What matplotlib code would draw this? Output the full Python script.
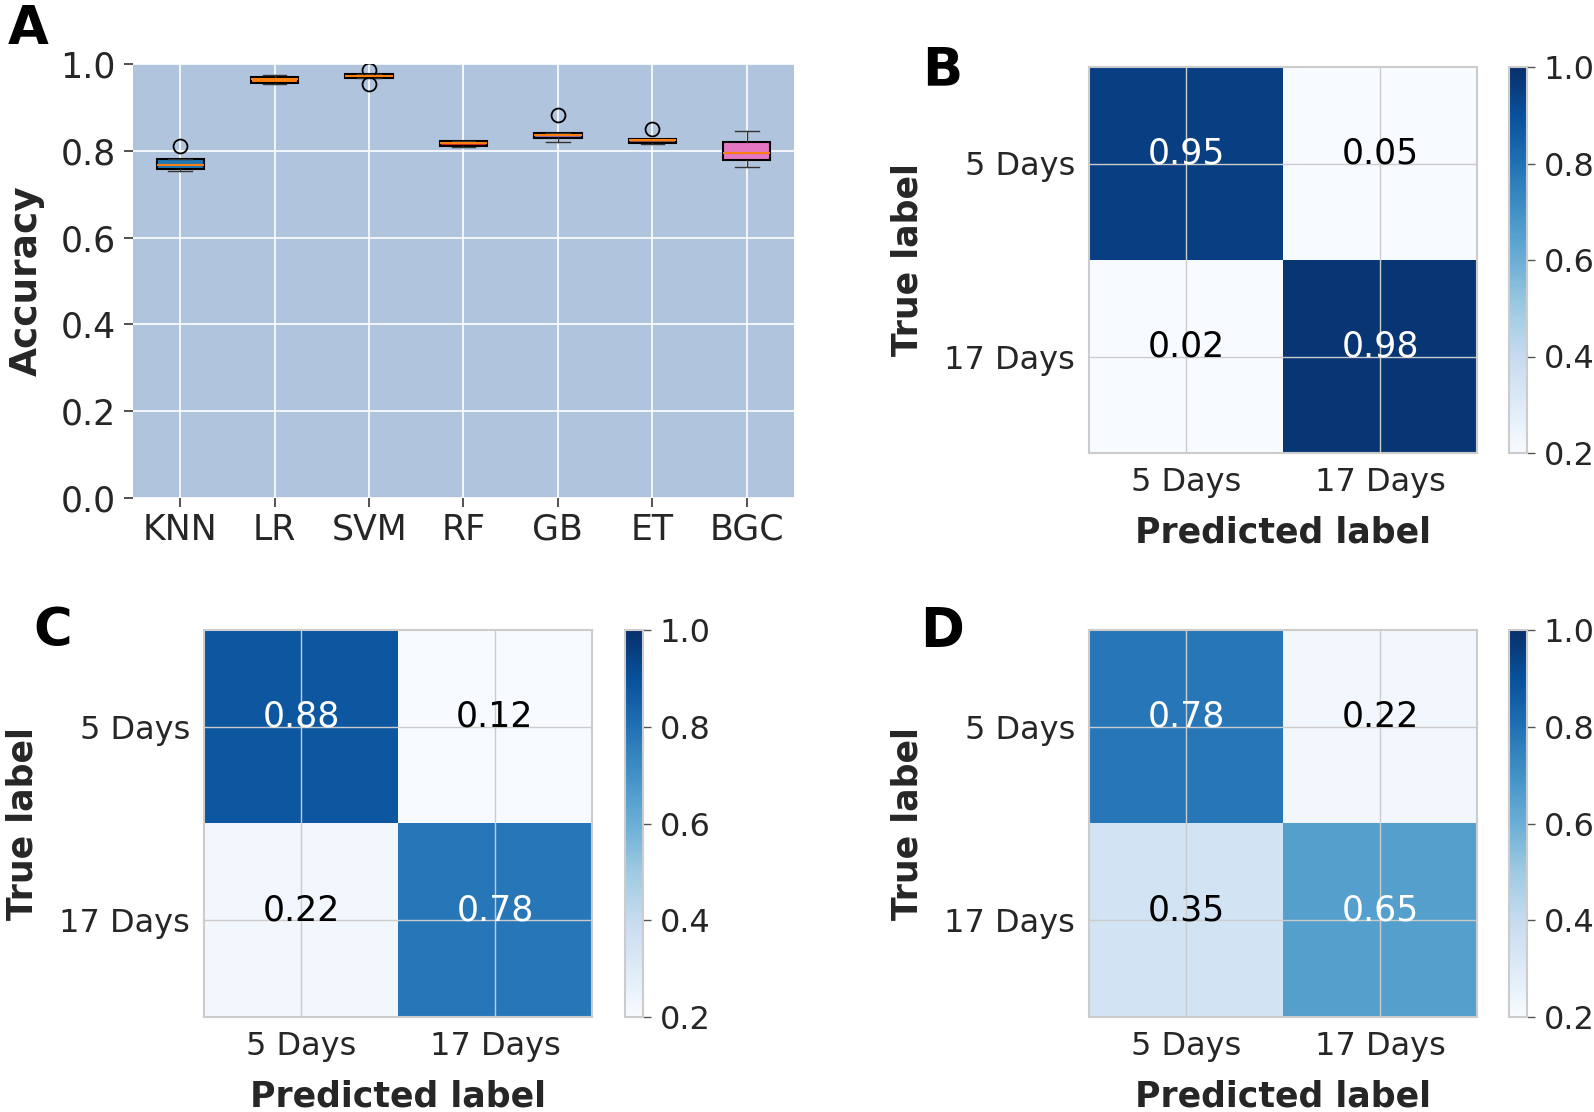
import matplotlib
matplotlib.use("Agg")
import matplotlib.pyplot as plt
import numpy as np

# panel A - cross-validation accuracy per model (box stats)
models = ["KNN", "LR", "SVM", "RF", "GB", "ET", "BGC"]
acc_q1 = [0.758, 0.957, 0.968, 0.812, 0.829, 0.8185, 0.778]
acc_med = [0.768, 0.965, 0.972, 0.817, 0.836, 0.824, 0.796]
acc_q3 = [0.780, 0.971, 0.976, 0.8215, 0.842, 0.827, 0.821]
acc_lo = [0.753, 0.954, 0.968, 0.8085, 0.820, 0.815, 0.763]
acc_hi = [0.780, 0.975, 0.976, 0.8215, 0.842, 0.827, 0.846]
acc_fliers = [[0.81], [], [0.986, 0.954], [], [0.883], [0.85], []]

# panels B-D - normalised confusion matrices
classes = ["5 Days", "17 Days"]
cm_B = [[0.95, 0.05], [0.02, 0.98]]
cm_C = [[0.88, 0.12], [0.22, 0.78]]
cm_D = [[0.78, 0.22], [0.35, 0.65]]

FS = 23      # confusion-matrix tick labels
FS_BIG = 25  # box plot ticks, cell values, axis titles
TXT = "#262626"
GRIDC = "#cccccc"

plt.rcParams["font.family"] = "DejaVu Sans"
plt.rcParams["text.color"] = TXT
plt.rcParams["axes.labelcolor"] = TXT
plt.rcParams["xtick.color"] = TXT
plt.rcParams["ytick.color"] = TXT

W, H = 1594, 1112
fig = plt.figure(figsize=(W / 100, H / 100), dpi=100)


def px_axes(l, t, r, b):
    return fig.add_axes([l / W, 1 - b / H, (r - l) / W, (b - t) / H])


# ---- A: boxplot
axA = px_axes(133, 64, 794, 498)
axA.set_facecolor("#b0c4de")
stats = []
for i, m in enumerate(models):
    stats.append(dict(label=m, q1=acc_q1[i], med=acc_med[i], q3=acc_q3[i],
                      whislo=acc_lo[i], whishi=acc_hi[i], fliers=acc_fliers[i]))
bp = axA.bxp(stats, patch_artist=True, widths=0.5,
             boxprops=dict(edgecolor="black", linewidth=1.5),
             medianprops=dict(color="C1", linewidth=1.5),
             whiskerprops=dict(color="#333333", linewidth=1),
             capprops=dict(color="#333333", linewidth=1),
             flierprops=dict(marker="o", markerfacecolor="none",
                             markeredgecolor="black", markersize=10, markeredgewidth=1.3))
for patch, c in zip(bp["boxes"], plt.cm.tab10.colors):
    patch.set_facecolor(c)
axA.set_ylim(0, 1.0)
axA.set_yticks(np.arange(0, 1.01, 0.2))
axA.grid(True, color="white", linewidth=1.2)
axA.set_axisbelow(True)
for s in axA.spines.values():
    s.set_visible(False)
axA.tick_params(labelsize=FS_BIG, length=6.5, width=1.2, color="#333333", pad=6)
axA.tick_params(axis="x", pad=4)
axA.set_ylabel("Accuracy", fontsize=FS_BIG + 2, fontweight="bold", labelpad=11)


# ---- B, C, D: confusion matrices
def conf_panel(box, cbox, cm):
    ax = px_axes(*box)
    cax = px_axes(*cbox)
    cm = np.array(cm)
    im = ax.imshow(cm, cmap="Blues", vmin=0.2, vmax=1.0, aspect="auto")
    for i in range(2):
        for j in range(2):
            col = "white" if cm[i, j] > 0.6 else "black"
            ax.text(j, i, f"{cm[i, j]:.2f}", ha="center", va="baseline",
                    color=col, fontsize=FS_BIG)
    ax.set_xticks(range(2))
    ax.set_yticks(range(2))
    ax.set_xticklabels(classes)
    ax.set_yticklabels(classes)
    ax.tick_params(labelsize=FS, length=0, pad=10)
    ax.grid(True, color=GRIDC, linewidth=1)
    for s in ax.spines.values():
        s.set_color(GRIDC)
        s.set_linewidth(1.5)
    ax.set_xlabel("Predicted label", fontsize=FS_BIG, fontweight="bold", labelpad=13)
    ax.set_ylabel("True label", fontsize=FS_BIG, fontweight="bold", labelpad=14)
    cb = fig.colorbar(im, cax=cax)
    cb.set_ticks([0.2, 0.4, 0.6, 0.8, 1.0])
    cb.ax.tick_params(labelsize=FS, length=6, width=1, color="#555555", pad=6)
    cb.outline.set_edgecolor(GRIDC)
    cb.outline.set_linewidth(1.5)
    return ax


conf_panel((1089, 67, 1477, 453), (1509, 67, 1527, 453), cm_B)
conf_panel((204, 630, 592, 1017), (625, 630, 643, 1017), cm_C)
conf_panel((1089, 630, 1477, 1017), (1509, 630, 1527, 1017), cm_D)

# panel letters
for lab, x, y in [("A", 8, 3), ("B", 922, 44), ("C", 33, 605), ("D", 920, 605)]:
    fig.text(x / W, 1 - y / H, lab, fontsize=38, fontweight="bold",
             color="black", ha="left", va="top")

fig.savefig("out.png", dpi=100)
